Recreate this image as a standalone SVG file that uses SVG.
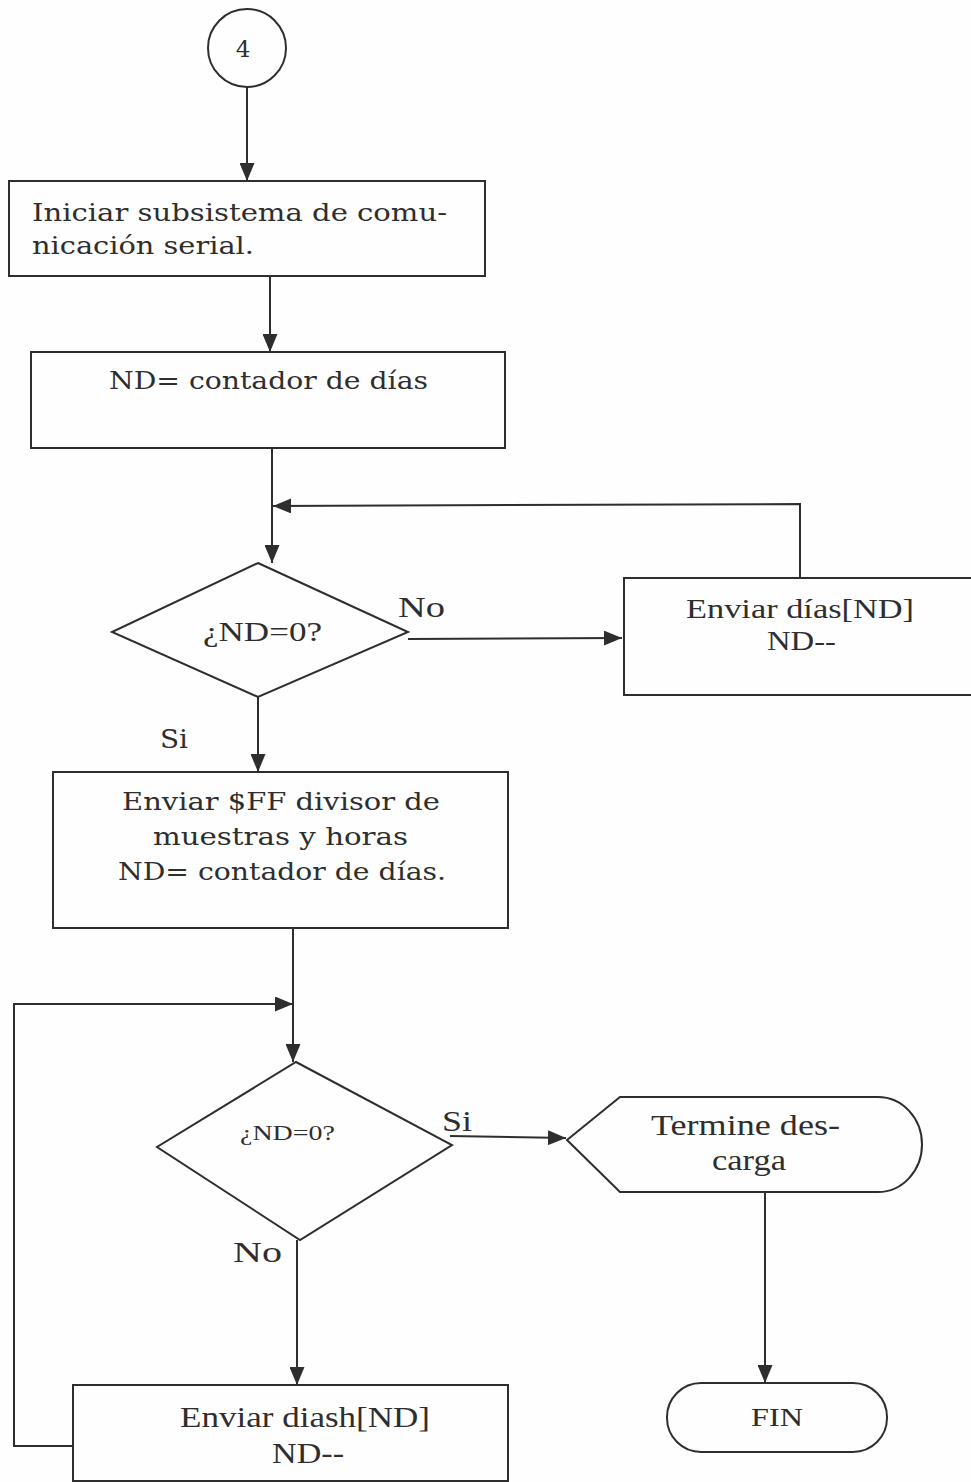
<svg xmlns="http://www.w3.org/2000/svg" width="971" height="1482" viewBox="0 0 971 1482">
  <defs>
    <marker id="arrow" markerWidth="18" markerHeight="15" refX="18" refY="7.5" orient="auto" markerUnits="userSpaceOnUse">
      <path d="M0,0 L18,7.5 L0,15 Z" fill="#2e2e2e"/>
    </marker>
    <style>
      .shape { fill: none; stroke: #2e2e2e; stroke-width: 2; }
      .conn { fill: none; stroke: #2e2e2e; stroke-width: 2; marker-end: url(#arrow); }
      .bk { font-family: "DejaVu Serif", "Liberation Serif", serif; fill: #2e2e2e; }
      .tm { font-family: "Liberation Serif", "Times New Roman", serif; fill: #2e2e2e; }
    </style>
  </defs>
  <rect width="971" height="1482" fill="#fefefe"/>

  <g id="connectors">
    <path class="conn" d="M247,87 L247,181"/>
    <path class="conn" d="M270,276 L270,352"/>
    <path class="conn" d="M272,448 L272,563"/>
    <path class="conn" d="M800,578 L800,504 L273,506"/>
    <path class="conn" d="M408,639 L622,638"/>
    <path class="conn" d="M258,697 L258,772"/>
    <path class="conn" d="M293,928 L293,1062"/>
    <path class="conn" d="M73,1446 L14,1446 L14,1004 L293,1004"/>
    <path class="conn" d="M450,1136 L566,1138"/>
    <path class="conn" d="M765,1192 L765,1383"/>
    <path class="conn" d="M297,1240 L297,1385"/>
  </g>

  <g id="connector-start">
    <circle class="shape" cx="247" cy="48" r="39"/>
    <text class="bk" x="243" y="57" font-size="23" text-anchor="middle">4</text>
  </g>

  <g id="init-serial">
    <rect class="shape" x="9" y="181" width="476" height="95"/>
    <text class="bk" x="32" y="221" font-size="24" textLength="415" lengthAdjust="spacingAndGlyphs">Iniciar subsistema de comu-</text>
    <text class="bk" x="32" y="254" font-size="24" textLength="222" lengthAdjust="spacingAndGlyphs">nicación serial.</text>
  </g>

  <g id="set-nd">
    <rect class="shape" x="31" y="352" width="474" height="96"/>
    <text class="bk" x="109" y="389" font-size="24" textLength="319" lengthAdjust="spacingAndGlyphs">ND= contador de días</text>
  </g>

  <g id="decision-1">
    <polygon class="shape" points="258,563 408,632 258,697 112,632"/>
    <text class="tm" x="203" y="641" font-size="28" textLength="119" lengthAdjust="spacingAndGlyphs">¿ND=0?</text>
    <text class="tm" x="398" y="617" font-size="30" textLength="47" lengthAdjust="spacingAndGlyphs">No</text>
    <text class="bk" x="160" y="748" font-size="26" textLength="28" lengthAdjust="spacingAndGlyphs">Si</text>
  </g>

  <g id="send-days">
    <rect class="shape" x="624" y="578" width="350" height="117"/>
    <text class="tm" x="686" y="618" font-size="28" textLength="228" lengthAdjust="spacingAndGlyphs">Enviar días[ND]</text>
    <text class="tm" x="767" y="650" font-size="28" textLength="69" lengthAdjust="spacingAndGlyphs">ND--</text>
  </g>

  <g id="send-ff">
    <rect class="shape" x="53" y="772" width="455" height="156"/>
    <text class="bk" x="122" y="810" font-size="24" textLength="318" lengthAdjust="spacingAndGlyphs">Enviar $FF divisor de</text>
    <text class="bk" x="153" y="845" font-size="24" textLength="255" lengthAdjust="spacingAndGlyphs">muestras y horas</text>
    <text class="bk" x="118" y="880" font-size="24" textLength="328" lengthAdjust="spacingAndGlyphs">ND= contador de días.</text>
  </g>

  <g id="decision-2">
    <polygon class="shape" points="296,1062 452,1145 300,1240 157,1147"/>
    <text class="tm" x="240" y="1140" font-size="22" textLength="95" lengthAdjust="spacingAndGlyphs">¿ND=0?</text>
    <text class="tm" x="442" y="1131" font-size="29" textLength="30" lengthAdjust="spacingAndGlyphs">Si</text>
    <text class="tm" x="233" y="1262" font-size="30" textLength="49" lengthAdjust="spacingAndGlyphs">No</text>
  </g>

  <g id="finish-download">
    <path class="shape" d="M567,1140 L620,1097 L878,1097 A44,47.5 0 0 1 878,1192 L620,1192 Z"/>
    <text class="tm" x="651" y="1135" font-size="29" textLength="189" lengthAdjust="spacingAndGlyphs">Termine des-</text>
    <text class="tm" x="712" y="1170" font-size="29" textLength="74" lengthAdjust="spacingAndGlyphs">carga</text>
  </g>

  <g id="send-diash">
    <rect class="shape" x="73" y="1385" width="435" height="96"/>
    <text class="tm" x="180" y="1427" font-size="29" textLength="250" lengthAdjust="spacingAndGlyphs">Enviar diash[ND]</text>
    <text class="tm" x="272" y="1463" font-size="29" textLength="72" lengthAdjust="spacingAndGlyphs">ND--</text>
  </g>

  <g id="end">
    <rect class="shape" x="667" y="1383" width="220" height="69" rx="34" ry="34"/>
    <text class="tm" x="751" y="1426" font-size="25" textLength="52" lengthAdjust="spacingAndGlyphs">FIN</text>
  </g>
</svg>
